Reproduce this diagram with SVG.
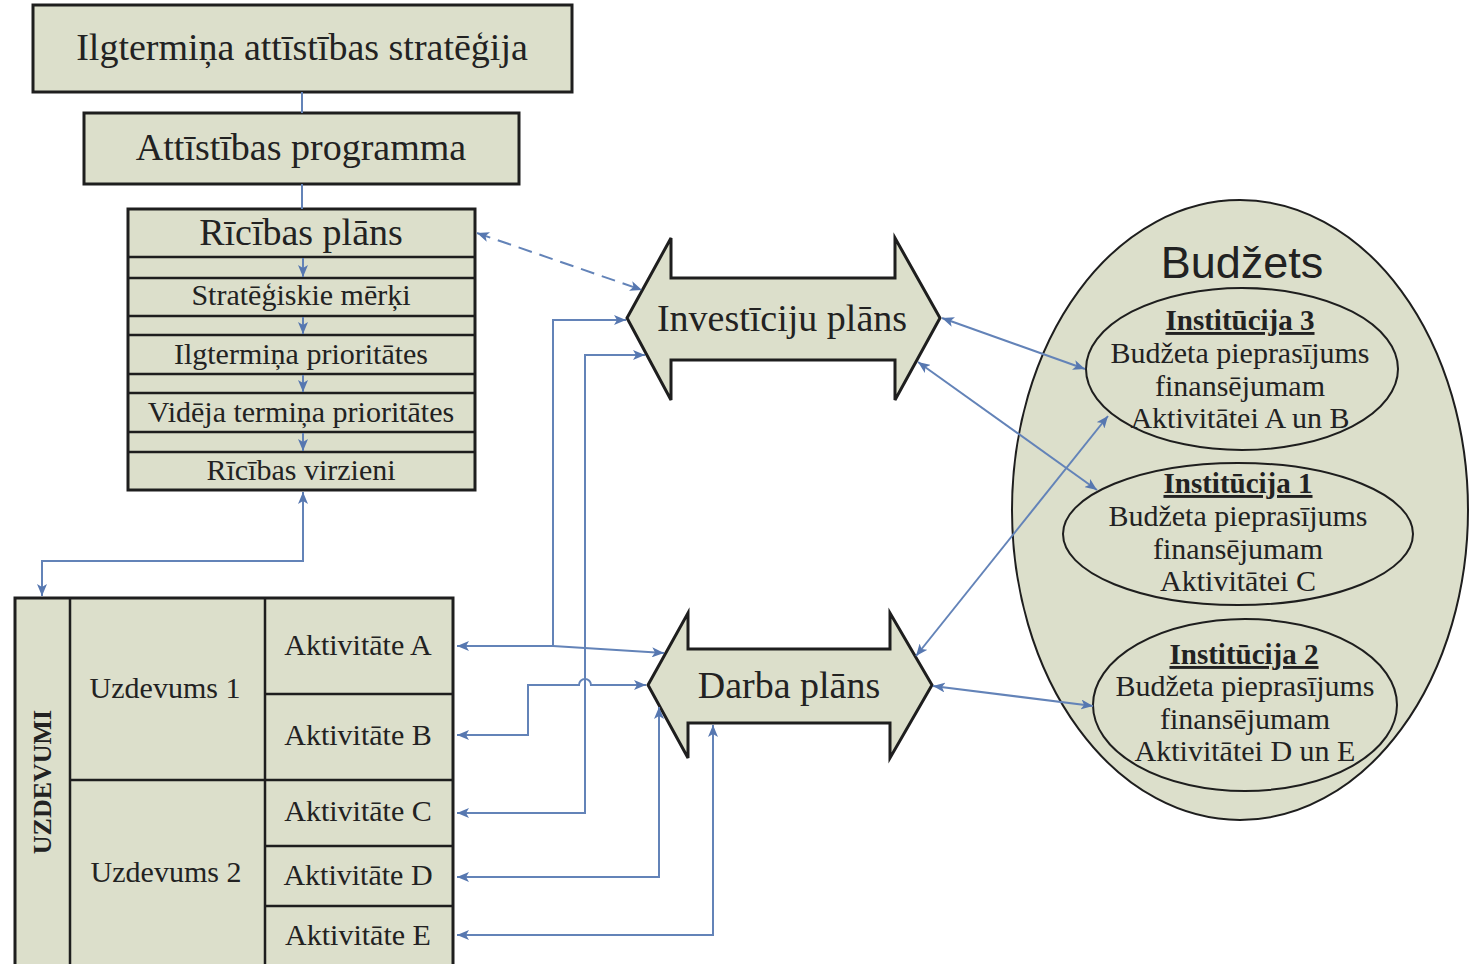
<svg xmlns="http://www.w3.org/2000/svg" width="1470" height="964" viewBox="0 0 1470 964">
<defs>
<style>
.box{fill:#dcdfcb;stroke:#1e1e1e;stroke-width:3}
.ln{stroke:#1e1e1e;stroke-width:2.5;fill:none}
.t36{font-family:"Liberation Serif","Times New Roman",serif;font-size:38px;fill:#222;text-anchor:middle}
.t29{font-family:"Liberation Serif","Times New Roman",serif;font-size:30px;fill:#222;text-anchor:middle}
.b29{font-family:"Liberation Serif","Times New Roman",serif;font-size:29px;font-weight:bold;fill:#222;text-anchor:middle;text-decoration:underline}
.sans{font-family:"Liberation Sans",Arial,sans-serif;font-size:45px;fill:#222;text-anchor:middle}
.c{stroke:#6383b8;stroke-width:2;fill:none}
.c2{stroke:#6383b8;stroke-width:2;fill:none;marker-start:url(#ah);marker-end:url(#ah)}
.c1{stroke:#6383b8;stroke-width:2;fill:none;marker-end:url(#ah)}
</style>
<marker id="ah" viewBox="0 0 12 10" refX="12" refY="5" markerWidth="12" markerHeight="10" markerUnits="userSpaceOnUse" orient="auto-start-reverse">
<path d="M0,0 L12,5 L0,10 L3,5 z" fill="#5677b0"/>
</marker>
</defs>
<rect width="1470" height="964" fill="#fff"/>

<g id="n-strategija">
<rect class="box" x="33" y="5" width="539" height="87"/>
<text class="t36" x="302" y="60">Ilgtermiņa attīstības stratēģija</text>
</g>

<g id="n-programma">
<rect class="box" x="84" y="113" width="435" height="71"/>
<text class="t36" x="301" y="160">Attīstības programma</text>
</g>

<g id="n-ricibas-plans">
<rect class="box" x="128" y="209" width="347" height="281"/>
<line class="ln" x1="128" y1="257" x2="475" y2="257"/>
<line class="ln" x1="128" y1="278" x2="475" y2="278"/>
<line class="ln" x1="128" y1="316" x2="475" y2="316"/>
<line class="ln" x1="128" y1="335" x2="475" y2="335"/>
<line class="ln" x1="128" y1="374" x2="475" y2="374"/>
<line class="ln" x1="128" y1="393" x2="475" y2="393"/>
<line class="ln" x1="128" y1="432" x2="475" y2="432"/>
<line class="ln" x1="128" y1="452" x2="475" y2="452"/>
<text class="t36" x="301" y="245">Rīcības plāns</text>
<text class="t29" x="301" y="305">Stratēģiskie mērķi</text>
<text class="t29" x="301" y="364">Ilgtermiņa prioritātes</text>
<text class="t29" x="301" y="422">Vidēja termiņa prioritātes</text>
<text class="t29" x="301" y="480">Rīcības virzieni</text>
</g>

<g id="n-uzdevumi">
<rect class="box" x="15" y="598" width="438" height="380"/>
<line class="ln" x1="70" y1="598" x2="70" y2="978"/>
<line class="ln" x1="265" y1="598" x2="265" y2="978"/>
<line class="ln" x1="265" y1="694" x2="453" y2="694"/>
<line class="ln" x1="70" y1="780" x2="453" y2="780"/>
<line class="ln" x1="265" y1="846" x2="453" y2="846"/>
<line class="ln" x1="265" y1="906" x2="453" y2="906"/>
<text x="42" y="782" transform="rotate(-90 42 782)" dy="9" style="font-family:'Liberation Serif','Times New Roman',serif;font-size:26px;font-weight:bold;fill:#222;text-anchor:middle">UZDEVUMI</text>
<text class="t29" x="165" y="698">Uzdevums 1</text>
<text class="t29" x="166" y="882">Uzdevums 2</text>
<text class="t29" x="358" y="655">Aktivitāte A</text>
<text class="t29" x="358" y="745">Aktivitāte B</text>
<text class="t29" x="358" y="821">Aktivitāte C</text>
<text class="t29" x="358" y="885">Aktivitāte D</text>
<text class="t29" x="358" y="945">Aktivitāte E</text>
</g>

<g id="n-investiciju">
<path class="box" d="M627 318 L671 238 L671 278 L895 278 L895 238 L940 318 L895 400 L895 360 L671 360 L671 400 Z"/>
<text class="t36" x="782" y="331">Investīciju plāns</text>
</g>

<g id="n-darba">
<path class="box" d="M648 685 L688 613 L688 649 L890 649 L890 613 L932 685 L890 758 L890 723 L688 723 L688 758 Z"/>
<text class="t36" x="789" y="698">Darba plāns</text>
</g>

<g id="n-budzets">
<ellipse cx="1240" cy="510" rx="228" ry="310" fill="#dcdfcb" stroke="#1e1e1e" stroke-width="2"/>
<text class="sans" x="1242" y="278">Budžets</text>
</g>

<g id="n-inst3">
<ellipse cx="1242" cy="369" rx="156" ry="81" fill="none" stroke="#1e1e1e" stroke-width="2"/>
<text class="b29" x="1240" y="330">Institūcija 3</text>
<text class="t29" x="1240" y="363">Budžeta pieprasījums</text>
<text class="t29" x="1240" y="396">finansējumam</text>
<text class="t29" x="1240" y="428">Aktivitātei A un B</text>
</g>

<g id="n-inst1">
<ellipse cx="1238" cy="534" rx="175" ry="71" fill="none" stroke="#1e1e1e" stroke-width="2"/>
<text class="b29" x="1238" y="493">Institūcija 1</text>
<text class="t29" x="1238" y="526">Budžeta pieprasījums</text>
<text class="t29" x="1238" y="559">finansējumam</text>
<text class="t29" x="1238" y="591">Aktivitātei C</text>
</g>

<g id="n-inst2">
<ellipse cx="1245" cy="705" rx="152" ry="86" fill="none" stroke="#1e1e1e" stroke-width="2"/>
<text class="b29" x="1244" y="664">Institūcija 2</text>
<text class="t29" x="1245" y="696">Budžeta pieprasījums</text>
<text class="t29" x="1245" y="729">finansējumam</text>
<text class="t29" x="1245" y="761">Aktivitātei D un E</text>
</g>

<g id="connectors">
<line class="c" x1="302" y1="92" x2="302" y2="113"/>
<line class="c" x1="302" y1="184" x2="302" y2="209"/>
<line class="c1" x1="303" y1="258" x2="303" y2="277"/>
<line class="c1" x1="303" y1="317" x2="303" y2="334"/>
<line class="c1" x1="303" y1="375" x2="303" y2="392"/>
<line class="c1" x1="303" y1="433" x2="303" y2="451"/>
<path class="c2" d="M303 492 L303 561 L42 561 L42 596"/>
<path class="c2" d="M477 233 L642 290" stroke-dasharray="14 8"/>
<path class="c2" d="M664 653 L553 646 L457 646"/>
<path class="c1" d="M553 646 L553 320 L626 320"/>
<path class="c2" d="M646 685 L591 685 A6 6 0 0 0 579 685 L528 685 L528 735 L457 735"/>
<path class="c2" d="M645 355 L585 355 L585 813 L457 813"/>
<path class="c2" d="M659 707 L659 877 L457 877"/>
<path class="c2" d="M713 725 L713 935 L457 935"/>
<path class="c2" d="M942 318 L1085 369"/>
<path class="c2" d="M918 362 L1097 490"/>
<path class="c2" d="M916 656 L1108 416"/>
<path class="c2" d="M933 686 L1093 706"/>
</g>
</svg>
